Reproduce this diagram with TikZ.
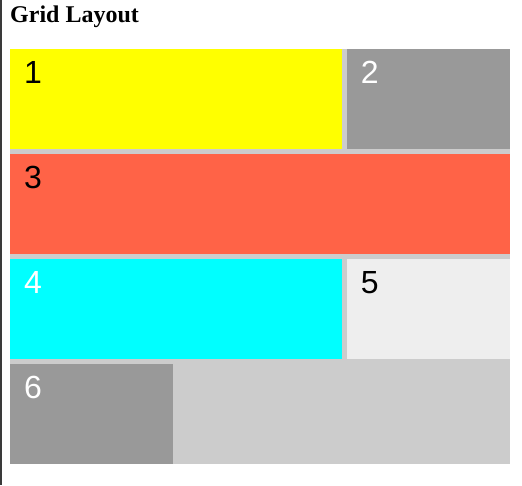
\documentclass[tikz,border=0pt]{standalone}
\usepackage{fontspec}
\setmainfont{Liberation Serif}
\newfontfamily\digitfont{Liberation Sans}
\definecolor{cyel}{HTML}{FFFF00}
\definecolor{cgray}{HTML}{999999}
\definecolor{ctomato}{HTML}{FF6347}
\definecolor{ccyan}{HTML}{00FFFF}
\definecolor{clight}{HTML}{EEEEEE}
\definecolor{cgrid}{HTML}{CCCCCC}
\definecolor{cedge}{HTML}{3A3A3A}
\begin{document}
\begin{tikzpicture}[x=1pt,y=-1pt,
  num/.style={font=\digitfont\fontsize{32}{32}\selectfont,inner sep=0pt,anchor=base west},
  title/.style={font=\fontsize{24}{24}\selectfont\bfseries,inner sep=0pt,anchor=base west}]
\useasboundingbox[fill=white] (0,0) rectangle (522,485);
% left page edge
\fill[cedge] (0,0) rectangle (2,485);
% grid container
\fill[cgrid] (10,49) rectangle (510,464);
\node[title] (t) at (10,22) {Grid Layout};
% cells
\fill[cyel]    (10,49)  coordinate (c1) rectangle (341.7,149);
\fill[cgray]   (346.7,49) coordinate (c2) rectangle (510,149);
\fill[ctomato] (10,154) coordinate (c3) rectangle (510,254);
\fill[ccyan]   (10,259) coordinate (c4) rectangle (341.7,359);
\fill[clight]  (346.7,259) coordinate (c5) rectangle (510,359);
\fill[cgray]   (10,364) coordinate (c6) rectangle (173.3,464);
% labels
\node[num,text=black] (n1) at ([shift={(14,34)}]c1) {1};
\node[num,text=white] (n2) at ([shift={(14,34)}]c2) {2};
\node[num,text=black] (n3) at ([shift={(14,34)}]c3) {3};
\node[num,text=white] (n4) at ([shift={(14,34)}]c4) {4};
\node[num,text=black] (n5) at ([shift={(14,34)}]c5) {5};
\node[num,text=white] (n6) at ([shift={(14,34)}]c6) {6};
\end{tikzpicture}
\end{document}
